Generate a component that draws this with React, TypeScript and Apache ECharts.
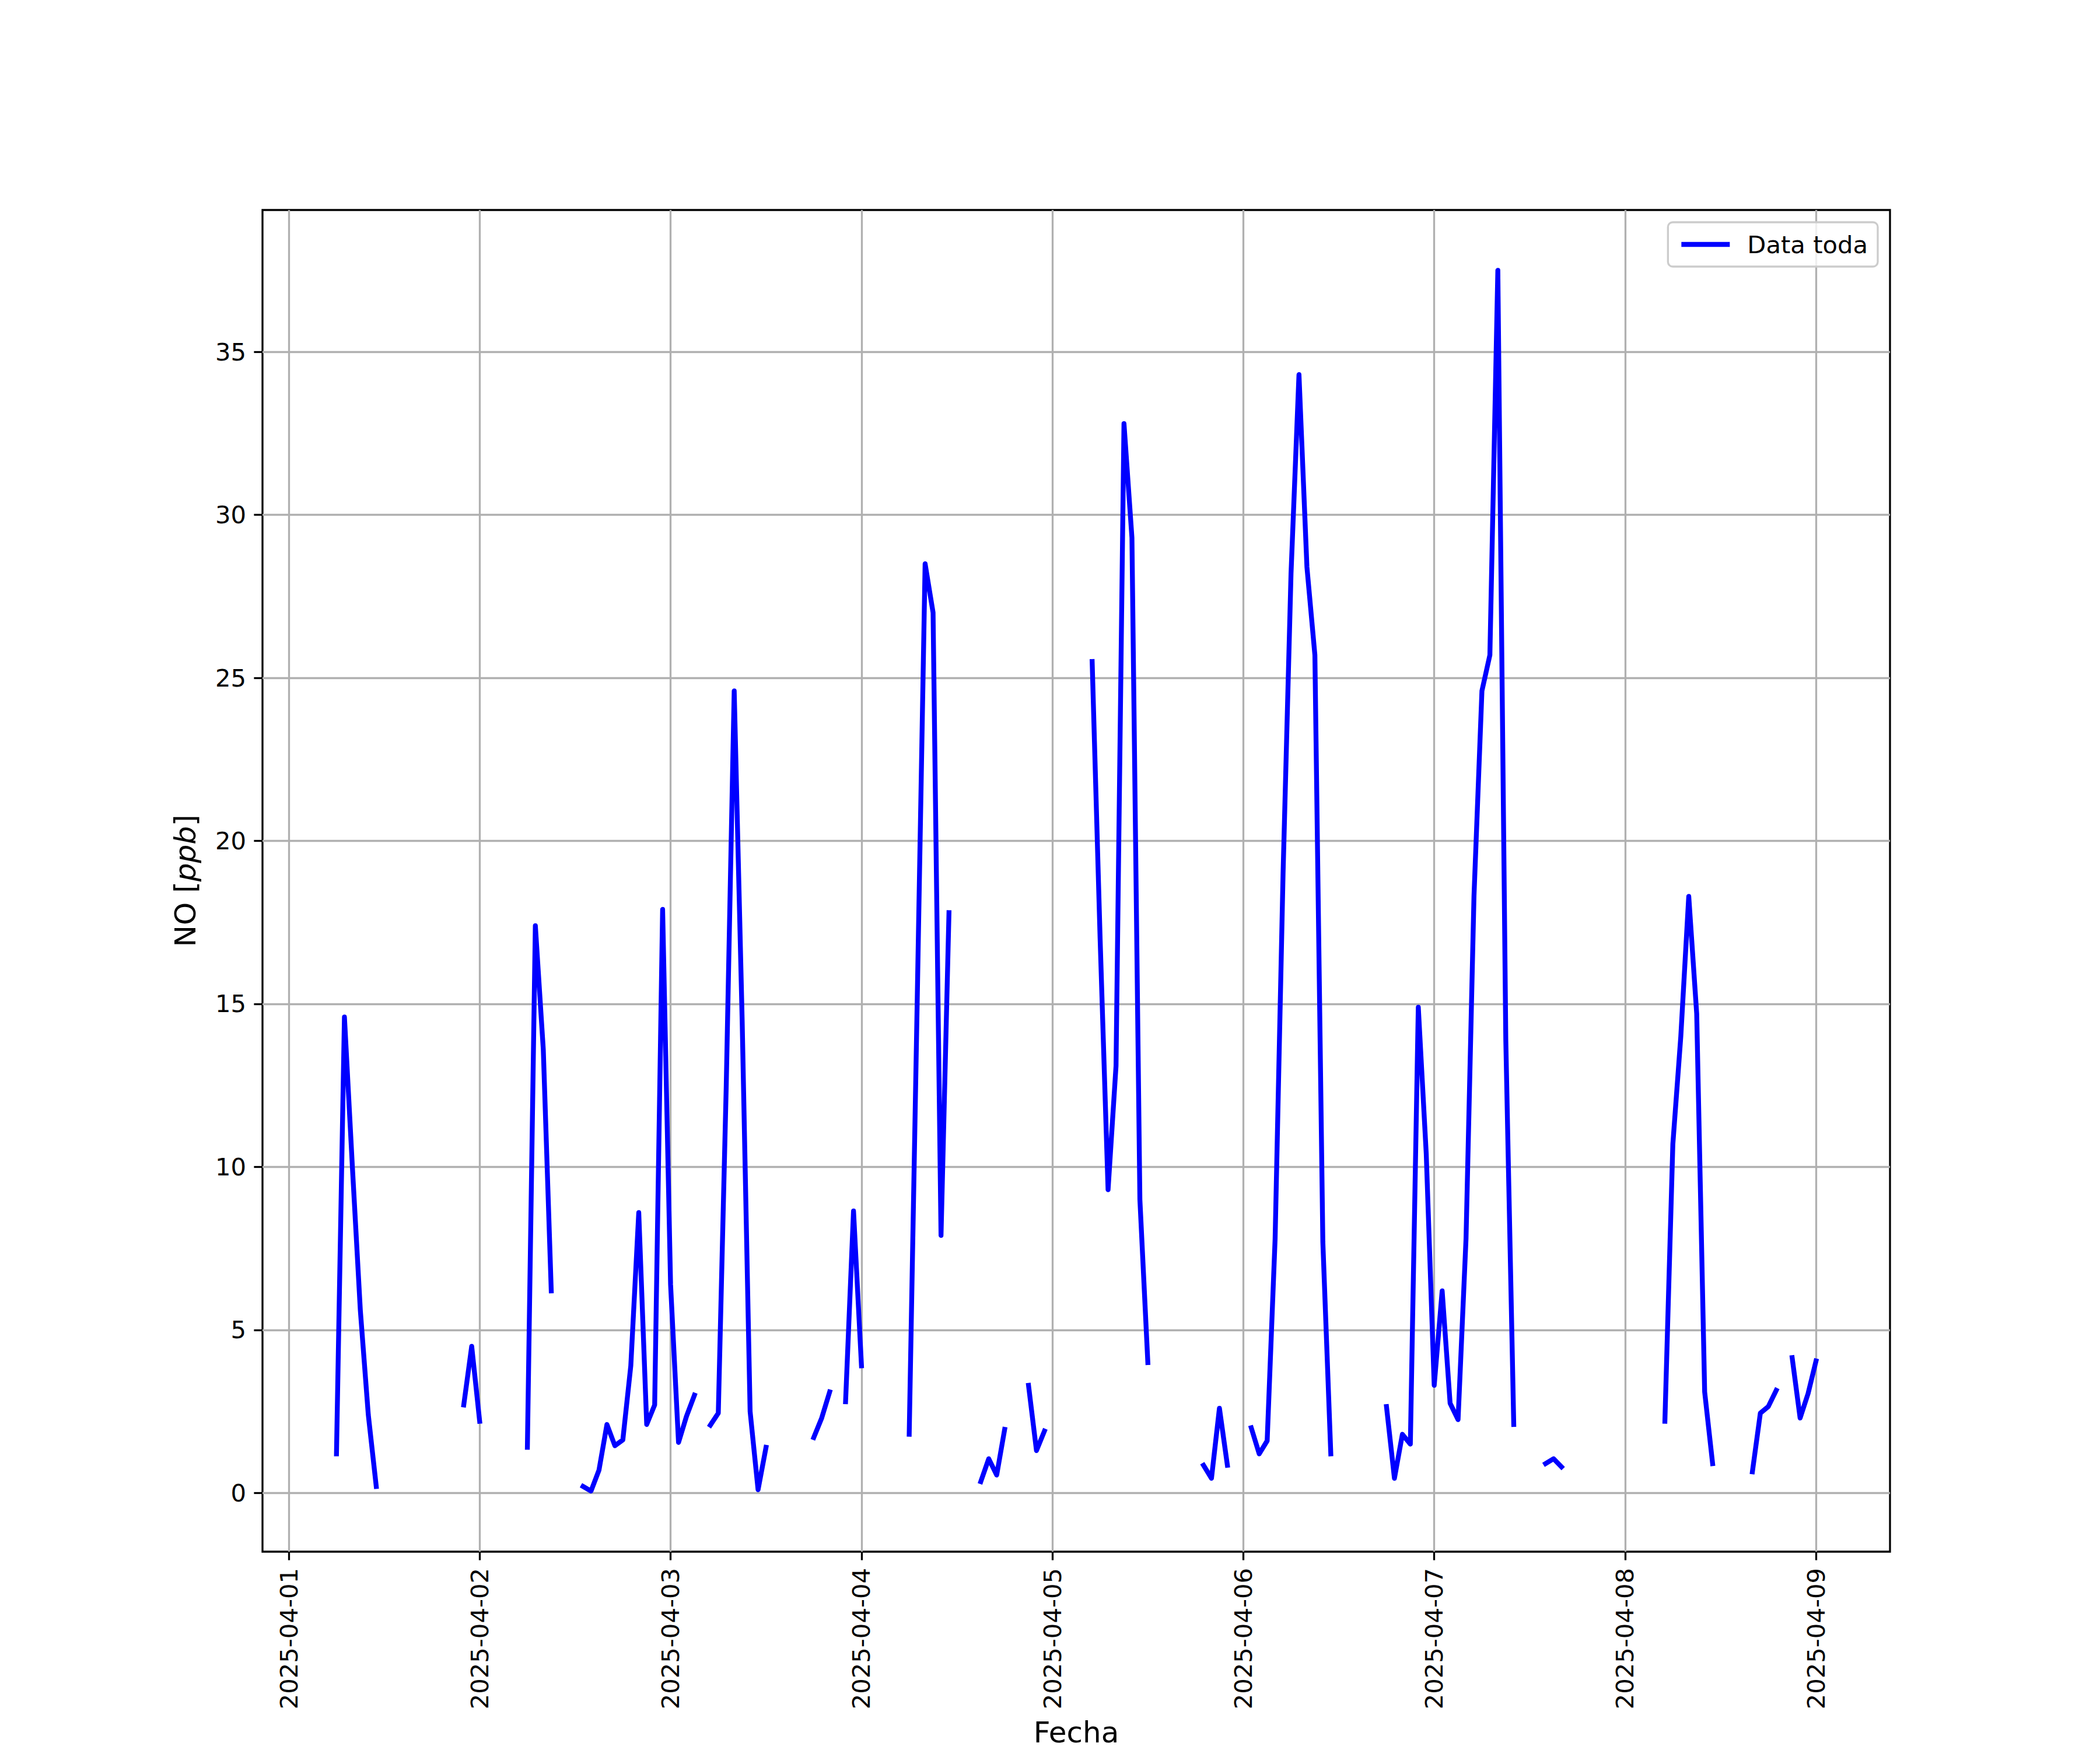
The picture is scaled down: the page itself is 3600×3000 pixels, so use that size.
import { useEffect, useRef } from 'react';
import * as echarts from 'echarts';

// Hours since 2025-04-01 00:00 at which each continuous run of hourly data starts
const SEGMENT_START_HOURS = [6, 22, 30, 37, 53, 66, 70, 78, 87, 93, 101, 115, 121, 138, 158, 173, 184, 189];

// Hourly NO values [ppb] for each continuous run (gaps = missing data)
const SEG_01 = [1.2, 14.6, 10.0, 5.6, 2.4, 0.2];
const SEG_02 = [2.7, 4.5, 2.2];
const SEG_03 = [1.4, 17.4, 13.6, 6.2];
const SEG_04 = [0.2, 0.06, 0.7, 2.1, 1.45, 1.63, 3.9, 8.6, 2.1, 2.7, 17.9, 6.4, 1.55, 2.35, 3.0];
const SEG_05 = [2.08, 2.45, 12.5, 24.6, 14.5, 2.5, 0.1, 1.4];
const SEG_06 = [1.7, 2.3, 3.1];
const SEG_07 = [2.8, 8.65, 3.9];
const SEG_08 = [1.8, 15.0, 28.5, 27.0, 7.9, 17.8];
const SEG_09 = [0.35, 1.05, 0.55, 1.95];
const SEG_10 = [3.3, 1.3, 1.9];
const SEG_11 = [25.5, 17.0, 9.3, 13.1, 32.8, 29.3, 9.0, 4.0];
const SEG_12 = [0.85, 0.45, 2.6, 0.85];
const SEG_13 = [2.0, 1.2, 1.6, 7.8, 19.0, 28.2, 34.3, 28.4, 25.7, 7.7, 1.2];
const SEG_14 = [2.65, 0.45, 1.8, 1.5, 14.9, 10.4, 3.3, 6.2, 2.75, 2.25, 7.8, 18.3, 24.6, 25.7, 37.5, 13.9, 2.1];
const SEG_15 = [0.9, 1.05, 0.8];
const SEG_16 = [2.2, 10.7, 14.0, 18.3, 14.7, 3.1, 0.9];
const SEG_17 = [0.65, 2.45, 2.65, 3.15];
const SEG_18 = [4.15, 2.3, 3.05, 4.05];

const SEGMENT_VALUES = [SEG_01, SEG_02, SEG_03, SEG_04, SEG_05, SEG_06, SEG_07, SEG_08, SEG_09,
  SEG_10, SEG_11, SEG_12, SEG_13, SEG_14, SEG_15, SEG_16, SEG_17, SEG_18];

const X_TICK_HOURS = [0, 24, 48, 72, 96, 120, 144, 168, 192];
const X_TICK_LABELS = ['2025-04-01', '2025-04-02', '2025-04-03', '2025-04-04', '2025-04-05',
  '2025-04-06', '2025-04-07', '2025-04-08', '2025-04-09'];
const Y_TICKS = [0, 5, 10, 15, 20, 25, 30, 35];

const SERIES_NAME = 'Data toda';
const FONT = 'DejaVu Sans';
const FS = 41.7;
const FS_LABEL = 50;

function buildData(): (number | null)[][] {
  const out: (number | null)[][] = [];
  SEGMENT_START_HOURS.forEach((start, si) => {
    const vals = SEGMENT_VALUES[si];
    vals.forEach((v, i) => out.push([start + i, v]));
    if (si < SEGMENT_START_HOURS.length - 1) out.push([start + vals.length, null]);
  });
  return out;
}

export default function App() {
  const ref = useRef<HTMLDivElement>(null);
  useEffect(() => {
    const chart = echarts.init(ref.current!, null, { renderer: 'svg' });
    chart.setOption({
      animation: false,
      backgroundColor: '#ffffff',
      textStyle: { fontFamily: FONT },
      grid: {
        left: 450, top: 360, width: 2790, height: 2310,
        show: true, borderColor: '#000000', borderWidth: 3.3, backgroundColor: 'transparent',
        containLabel: false,
      },
      legend: {
        data: [SERIES_NAME],
        icon: 'rect',
        right: 381, top: 381,
        padding: [17, 17, 17, 23],
        itemWidth: 83, itemHeight: 8.33,
        borderColor: '#cccccc', borderWidth: 3.3, borderRadius: 8,
        backgroundColor: 'rgba(255,255,255,0.8)',
        textStyle: { fontSize: FS, fontFamily: FONT, color: '#000000', padding: [0, 0, 0, 25] },
      },
      xAxis: {
        type: 'value',
        min: -3.3, max: 201.3,
        axisLine: { show: false, onZero: false },
        axisTick: {
          show: true, inside: false, length: 14.6, customValues: X_TICK_HOURS,
          lineStyle: { color: '#000000', width: 3.3 },
        },
        axisLabel: {
          customValues: X_TICK_HOURS,
          formatter: (v: number) => X_TICK_LABELS[X_TICK_HOURS.indexOf(Math.round(v))] ?? '',
          rotate: 90, margin: 28, fontSize: FS, fontFamily: FONT, color: '#000000',
        },
        splitLine: { show: true, lineStyle: { color: '#b0b0b0', width: 3.3 } },
        name: 'Fecha', nameLocation: 'middle', nameGap: 285,
        nameTextStyle: { fontSize: FS_LABEL, fontFamily: FONT, color: '#000000' },
      },
      yAxis: {
        type: 'value',
        min: -1.8, max: 39.35,
        axisLine: { show: false, onZero: false },
        axisTick: {
          show: true, inside: false, length: 14.6, customValues: Y_TICKS,
          lineStyle: { color: '#000000', width: 3.3 },
        },
        axisLabel: {
          customValues: Y_TICKS,
          margin: 28, fontSize: FS, fontFamily: FONT, color: '#000000',
        },
        splitLine: { show: true, lineStyle: { color: '#b0b0b0', width: 3.3 } },
        name: '{n|NO [}{i|ppb}{n|]}', nameLocation: 'middle', nameGap: 107, nameRotate: 90,
        nameTextStyle: {
          fontSize: FS_LABEL, fontFamily: FONT, color: '#000000',
          rich: {
            n: { fontSize: FS_LABEL, fontFamily: FONT, color: '#000000' },
            i: { fontSize: FS_LABEL, fontFamily: FONT, color: '#000000', fontStyle: 'italic' },
          },
        },
      },
      series: [
        {
          name: SERIES_NAME,
          type: 'line',
          data: buildData(),
          symbol: 'none',
          showSymbol: false,
          connectNulls: false,
          lineStyle: { color: '#0000ff', width: 8.33, cap: 'square', join: 'round' },
          itemStyle: { color: '#0000ff' },
        },
      ],
    });
    return () => chart.dispose();
  }, []);
  return (
    <div
      ref={ref}
      style={{ position: 'absolute', left: 0, top: 0, width: 3600, height: 3000, background: '#ffffff' }}
    />
  );
}
